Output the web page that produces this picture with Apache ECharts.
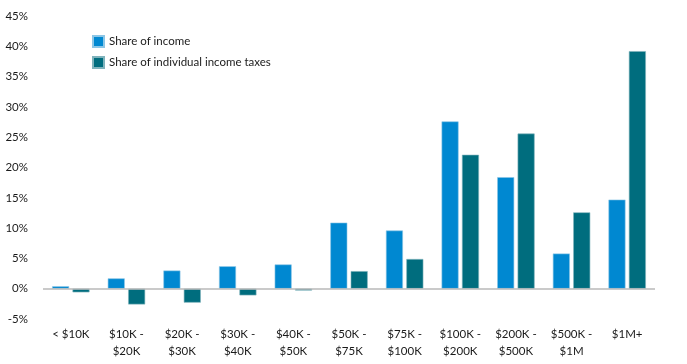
<!DOCTYPE html>
<html><head><meta charset="utf-8">
<script src="https://cdn.jsdelivr.net/npm/echarts@6/dist/echarts.min.js"></script>
<style>html,body{margin:0;padding:0;background:#fff}#c{width:687px;height:364px}</style>
</head><body><div id="c"></div>
<script>
const categories = ['< $10K','$10K -\n$20K','$20K -\n$30K','$30K -\n$40K','$40K -\n$50K','$50K -\n$75K','$75K -\n$100K','$100K -\n$200K','$200K -\n$500K','$500K -\n$1M','$1M+'];
const shareOfIncome = [0.4, 1.7, 3.0, 3.7, 4.0, 10.9, 9.6, 27.6, 18.4, 5.8, 14.7];
const shareOfTaxes = [-0.6, -2.6, -2.3, -1.1, -0.3, 2.9, 4.9, 22.1, 25.6, 12.6, 39.2];
const seriesNames = ['Share of income', 'Share of individual income taxes'];
const font = 'Lato, sans-serif';
const chart = echarts.init(document.getElementById('c'));
chart.setOption({
  animation: false,
  textStyle: {fontFamily: font},
  grid: {left: 43, right: 32, top: 16, bottom: 45},
  legend: {
    orient: 'vertical', left: 87, top: 30, itemWidth: 11, itemHeight: 11, itemGap: 8,
    icon: 'rect',
    textStyle: {fontSize: 11.5, color: '#1a1a1a', fontFamily: font},
    data: seriesNames
  },
  xAxis: {
    type: 'category', data: categories,
    axisLine: {show: false}, axisTick: {show: false},
    axisLabel: {fontSize: 11.5, color: '#1a1a1a', lineHeight: 17, margin: 7, interval: 0, fontFamily: font}
  },
  yAxis: {
    type: 'value', min: -5, max: 45, interval: 5,
    splitLine: {show: false}, axisLine: {show: false}, axisTick: {show: false},
    axisLabel: {formatter: '{value}%', fontSize: 11.5, color: '#1a1a1a', margin: 15, fontFamily: font}
  },
  series: [
    {name: seriesNames[0], type: 'bar', data: shareOfIncome, barWidth: 17, barGap: '20%',
     itemStyle: {color: '#0088d1', borderColor: '#8cc6e6', borderWidth: 0.6},
     markLine: {silent: true, symbol: 'none', label: {show: false},
       lineStyle: {color: '#b8b8b8', width: 1.5, type: 'solid'}, data: [{yAxis: 0}]}},
    {name: seriesNames[1], type: 'bar', data: shareOfTaxes, barWidth: 17,
     itemStyle: {color: '#006d7e', borderColor: '#7fb3bc', borderWidth: 0.6}}
  ]
});
</script></body></html>
